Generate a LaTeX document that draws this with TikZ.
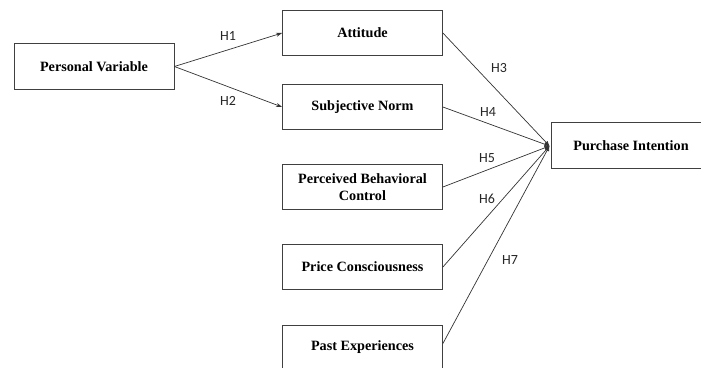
\documentclass[tikz,border=0pt]{standalone}
\usepackage{fontspec}
\setmainfont{Liberation Serif}
\newfontfamily\labfont{Carlito}
\usetikzlibrary{arrows.meta}
\begin{document}
\begin{tikzpicture}[x=1pt,y=-1pt,
  box/.style={draw=black!75, line width=0.8pt, minimum width=160pt, minimum height=45.5pt, inner sep=0pt, align=center, font=\fontsize{14.2}{17}\selectfont\bfseries},
  conn/.style={draw=black!80, line width=0.7pt},
  hlab/.style={font=\labfont\fontsize{14}{15}\selectfont, text=black!85}]
\useasboundingbox (0,0) rectangle (701,367);
\begin{scope}
\clip (0,0) rectangle (701,367);
\node[box] (pv) at (94,66.5) {Personal Variable};
\node[box] (att) at (362.5,33) {Attitude};
\node[box] (sn) at (362.5,107) {Subjective Norm};
\node[box] (pbc) at (362.5,187) {Perceived Behavioral\\Control};
\node[box] (pc) at (362.5,267) {Price Consciousness};
\node[box, minimum height=45pt] (pe) at (362.5,347.5) {Past Experiences};
\node[box, minimum width=160pt] (pi) at (631,145.5) {Purchase Intention};
\end{scope}
\coordinate (hub) at (549.5,146);
\coordinate (peout) at ([yshift=4pt]pe.east);
\draw[conn, -{Stealth[length=6pt,width=4pt]}] (pv.east) -- (att.west);
\draw[conn, -{Stealth[length=6pt,width=4pt]}] (pv.east) -- (sn.west);
\foreach \s in {att.east, sn.east, pbc.east, pc.east, peout}
  \draw[conn, -{Latex[length=5pt,width=4.5pt]}] (\s) -- (hub);
\node[hlab] (h1) at (228,36) {H1};
\node[hlab] (h2) at (228,101) {H2};
\node[hlab] (h3) at (499,68) {H3};
\node[hlab] (h4) at (488,112) {H4};
\node[hlab] (h5) at (487,158) {H5};
\node[hlab] (h6) at (487,199) {H6};
\node[hlab] (h7) at (510,260) {H7};
\end{tikzpicture}
\end{document}
